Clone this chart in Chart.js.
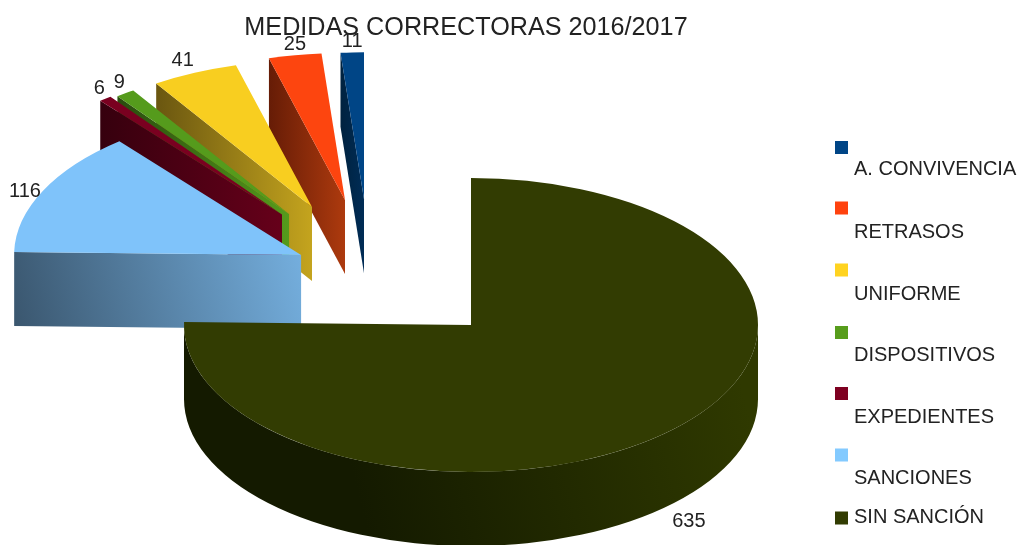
<!DOCTYPE html>
<html><head><meta charset="utf-8">
<style>html,body{margin:0;padding:0;background:#fff}#w{width:1024px;height:545px;position:relative;overflow:hidden}canvas{display:block;filter:blur(0.45px)}</style>
<script src="https://cdn.jsdelivr.net/npm/chart.js@4"></script>
</head><body><div id="w"><canvas id="c" width="1024" height="545"></canvas></div>
<script>
const chartTitle = 'MEDIDAS CORRECTORAS 2016/2017';
const categories = ['SIN SANCIÓN','SANCIONES','EXPEDIENTES','DISPOSITIVOS','UNIFORME','RETRASOS','A. CONVIVENCIA'];
const values = [635,116,6,9,41,25,11];
const topColors = ['#323c02','#7fc3fa','#7a0020','#559b1c','#f8ce20','#fd450f','#004586'];
const legendColors = ['#323c02','#83caff','#7e0021','#579d1c','#ffd320','#ff420e','#004586'];
const wallDark = ['#141a00','#3a566e','#36000e','#2a4c0e','#6a5610','#661c06','#00223f'];
const wallLight = ['#2f3900','#74aedd','#66001a','#559b1c','#c4a41e','#ad3a0e','#002c56'];
const wallSkew = [0.25,0.25,0,0,0,0,0];

// Exploded 3D look: ellipse and slice offsets as fractions of the radii
const pie = {cx:471, cy:325, rx:287, ry:147, depth:74};
const explodeX = [0,-0.592,-0.6585,-0.634,-0.554,-0.439,-0.3728];
const explodeY = [0,-0.476,-0.752,-0.755,-0.803,-0.85,-0.855];
const labelNudge = [[17,91],[-18,1],[-6,-10],[-6,-11],[-12,-12],[0,-11],[0,-11]];
const legendBoxY = [518,455,393.5,332.5,270,208,147.5];
const legendTextY = [517,478.5,417,355,294,232,169.5];
const FONT = '"Liberation Sans", Arial, sans-serif';

function slicePoint(i, ang, r){
  return [pie.cx + explodeX[i]*pie.rx + r*pie.rx*Math.cos(ang),
          pie.cy + explodeY[i]*pie.ry + r*pie.ry*Math.sin(ang)];
}
function wallFill(ctx,i,x0,x1,yBase){
  const g = ctx.createLinearGradient(x0,yBase,x1,yBase-wallSkew[i]*(x1-x0));
  g.addColorStop(0,wallDark[i]); g.addColorStop(1,wallLight[i]);
  return g;
}
function drawWalls(ctx,i,arc){
  const a=arc.startAngle,b=arc.endAngle,d=pie.depth;
  const quad=(ang)=>{
    const p=slicePoint(i,ang,1), o=slicePoint(i,ang,0);
    ctx.fillStyle=wallFill(ctx,i,Math.min(p[0],o[0]),Math.max(p[0],o[0]),Math.max(p[1],o[1])+d);
    ctx.beginPath();ctx.moveTo(o[0],o[1]);ctx.lineTo(p[0],p[1]);ctx.lineTo(p[0],p[1]+d);ctx.lineTo(o[0],o[1]+d);ctx.closePath();ctx.fill();
  };
  if(Math.cos(a)<0) quad(a);
  if(Math.cos(b)>0) quad(b);
  // outer curved wall: only the part facing the viewer
  const from=Math.max(a,0), to=Math.min(b,Math.PI);
  if(to>from){
    const c=slicePoint(i,0,0);
    ctx.fillStyle=wallFill(ctx,i,c[0]-pie.rx*0.35,c[0]+pie.rx,pie.cy+pie.ry+d);
    ctx.beginPath();
    ctx.ellipse(c[0],c[1],pie.rx,pie.ry,0,from,to,false);
    ctx.ellipse(c[0],c[1]+d,pie.rx,pie.ry,0,to,from,true);
    ctx.closePath();ctx.fill();
  }
}
const pie3d = {
  id:'pie3d',
  beforeDatasetsDraw(chart){
    const ctx=chart.ctx, arcs=chart.getDatasetMeta(0).data;
    for(let i=arcs.length-1;i>=0;i--){
      const arc=arcs[i], R=arc.outerRadius;
      ctx.save();
      drawWalls(ctx,i,arc);
      ctx.translate(pie.cx+explodeX[i]*pie.rx, pie.cy+explodeY[i]*pie.ry);
      ctx.scale(pie.rx/R, pie.ry/R);
      ctx.translate(-arc.x,-arc.y);
      arc.draw(ctx);
      ctx.restore();
    }
    return false;
  },
  afterDraw(chart){
    const ctx=chart.ctx, arcs=chart.getDatasetMeta(0).data;
    ctx.save();
    ctx.fillStyle='#222';
    ctx.textBaseline='middle';
    // value labels
    ctx.font='20px '+FONT; ctx.textAlign='center';
    arcs.forEach((arc,i)=>{
      const m=(arc.startAngle+arc.endAngle)/2, p=slicePoint(i,m,1);
      ctx.fillText(String(values[i]),p[0]+labelNudge[i][0],p[1]+labelNudge[i][1]);
    });
    // legend
    ctx.textAlign='left'; ctx.font='20px '+FONT;
    categories.forEach((name,i)=>{
      ctx.fillStyle=legendColors[i];
      ctx.fillRect(835,legendBoxY[i]-6.5,13,13);
      ctx.fillStyle='#222';
      ctx.fillText(name,854,legendTextY[i]);
    });
    ctx.restore();
  }
};
new Chart(document.getElementById('c'),{
  type:'pie',
  data:{labels:categories,datasets:[{data:values,backgroundColor:topColors,borderWidth:0}]},
  options:{
    responsive:false,animation:false,
    layout:{padding:{right:92}},
    plugins:{
      legend:{display:false},tooltip:{enabled:false},
      title:{display:true,text:chartTitle,color:'#222',font:{family:FONT,size:25.2,weight:'normal'},padding:{top:13,bottom:4}}
    }
  },
  plugins:[pie3d]
});
</script></body></html>
